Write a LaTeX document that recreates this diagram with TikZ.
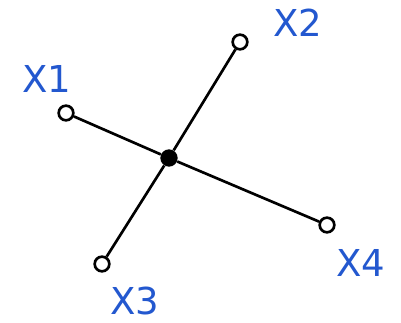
\documentclass[tikz,border=0pt]{standalone}
\usepackage{fontspec}
\newfontfamily\etiq{DejaVu Sans}
\usepackage{tikz}
\usetikzlibrary{calc,positioning}
\definecolor{azulX}{HTML}{2358CF}
\tikzset{
  extremo/.style={draw, line width=2pt, fill=white, circle, inner sep=0pt, minimum size=11pt},
  centro/.style={fill=black, circle, inner sep=0pt, minimum size=13pt},
  etiqueta/.style={text=azulX, font=\etiq\fontsize{27.8}{30}\selectfont, inner sep=0pt},
  brazo/.style={line width=2pt}
}

\begin{document}
\begin{tikzpicture}[x=0.75pt, y=-0.75pt]
\useasboundingbox (0,0) rectangle (401,323);

%====================================================
% NODOS
%====================================================
\node[centro] (c) at (169,158) {};
\node[extremo] (x1) at (66,113) {};
\node[extremo] (x2) at (240,42) {};
\node[extremo] (x3) at (102,264) {};
\node[extremo] (x4) at (327,225) {};

\node[etiqueta] (l1) at (47,79) {X1};
\node[etiqueta] (l2) at (298,23) {X2};
\node[etiqueta] (l3) at (135,301) {X3};
\node[etiqueta] (l4) at (361,263) {X4};

%====================================================
% BRAZOS
%====================================================
\draw[brazo] (x1) -- (c) -- (x4);
\draw[brazo] (x2) -- (c) -- (x3);
\end{tikzpicture}
\end{document}
